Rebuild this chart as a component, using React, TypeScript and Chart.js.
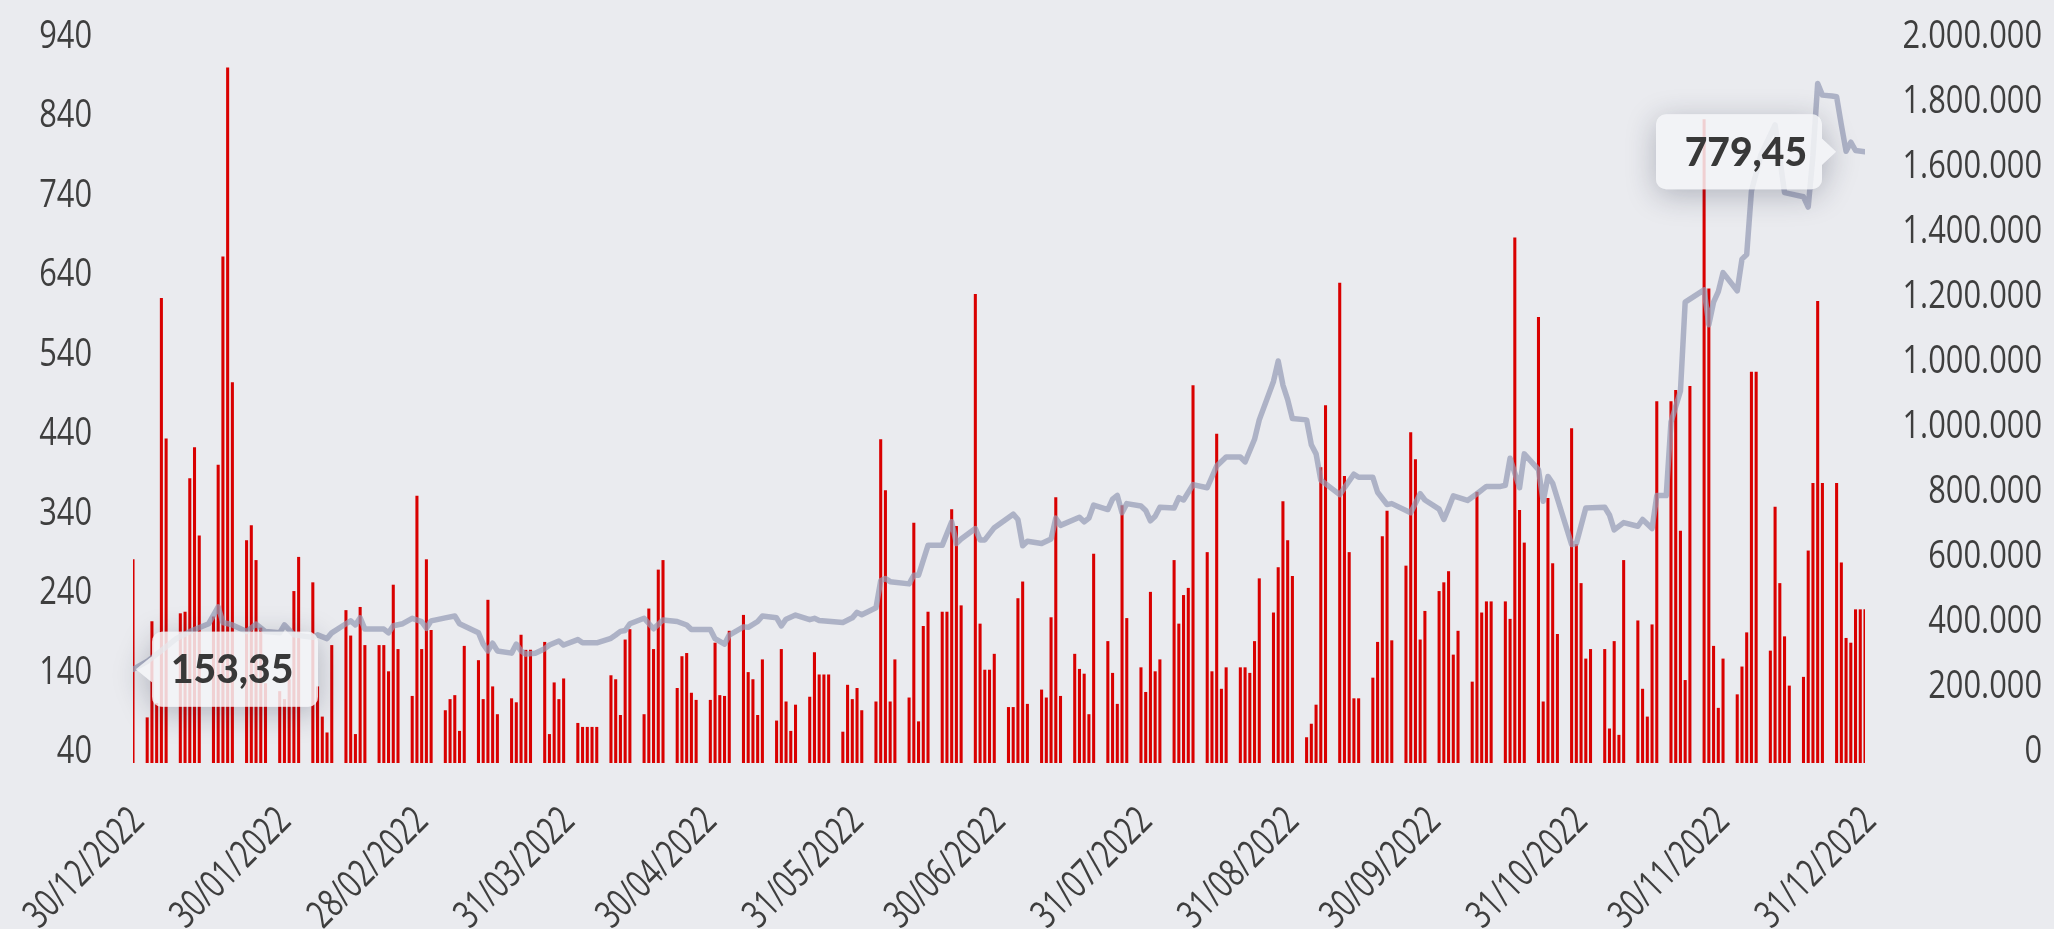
import React, { useEffect, useRef } from 'react';
import { Chart, registerables } from 'chart.js';

Chart.register(...registerables);

// ---------- DATA ----------
// Daily volume bars (one entry per day slot, null = no trading). Rows of 7 days.
const volumes: (number | null)[] = [
  296, null, null, 97, 218, 115, 625,
  448, null, null, 228, 230, 398, 437,
  326, null, null, 224, 415, 677, 915,
  519, null, null, 320, 339, 295, 210,
  140, null, null, 130, 120, 145, 256,
  299, null, null, 267, 136, 98, 78,
  188, null, null, 232, 200, 76, 236,
  188, null, null, 188, 188, 155, 264,
  183, null, null, 124, 376, 183, 296,
  207, null, null, 106, 120, 125, 80,
  187, null, null, 169, 120, 245, 136,
  101, null, null, 121, 116, 201, 182,
  182, null, null, 192, 76, 141, 120,
  146, null, null, 90, 85, 85, 85,
  85, null, null, 150, 145, 100, 195,
  208, null, null, 101, 234, 183, 283,
  295, null, null, 134, 174, 178, 128,
  119, null, null, 119, 191, 125, 124,
  206, null, null, 226, 154, 145, 100,
  170, null, null, 93, 183, 117, 80,
  113, null, null, 123, 179, 151, 151,
  151, null, null, 79, 138, 120, 134,
  106, null, null, 117, 447, 383, 117,
  170, null, null, 122, 342, 92, 212,
  230, null, null, 230, 230, 359, 338,
  238, null, null, 630, 215, 157, 157,
  177, null, null, 110, 110, 247, 268,
  114, null, null, 132, 122, 223, 374,
  124, null, null, 177, 158, 152, 101,
  303, null, null, 193, 153, 114, 364,
  222, null, null, 160, 129, 255, 155,
  170, null, null, 295, 215, 251, 260,
  515, null, null, 305, 155, 454, 133,
  160, null, null, 160, 160, 153, 193,
  272, null, null, 229, 286, 369, 320,
  275, null, null, 72, 89, 113, 412,
  490, null, null, 644, 401, 305, 121,
  121, null, null, 147, 192, 325, 357,
  194, null, null, 288, 456, 422, 195,
  231, null, null, 256, 267, 281, 176,
  206, null, null, 142, 381, 229, 243,
  243, null, null, 243, 221, 701, 358,
  317, null, null, 601, 117, 373, 291,
  202, null, null, 461, 315, 266, 171,
  183, null, null, 183, 83, 193, 75,
  295, null, null, 219, 133, 98, 214,
  495, null, null, 495, 509, 332, 144,
  514, null, null, 850, 637, 187, 109,
  171, null, null, 126, 161, 204, 532,
  532, null, null, 181, 362, 266, 199,
  137, null, null, 148, 307, 392, 621,
  392, null, null, 392, 292, 197, 191,
  233, 233, 233,
];

// Price line: day slot of each read vertex and its value
const priceDays: number[] = [
  0, 3, 6, 9, 12, 16, 18, 19, 21, 24, 26, 28, 31, 32, 34, 38, 39, 41, 42, 45,
  46, 47, 48, 49, 53, 54, 55, 57, 59, 61, 62, 63, 66, 68, 69, 71, 73, 74, 75, 76,
  77, 80, 81, 82, 83, 85, 87, 88, 90, 91, 94, 95, 98, 101, 102, 103, 104, 105, 108, 110,
  112, 115, 117, 118, 122, 123, 125, 126, 129, 130, 132, 133, 136, 137, 138, 140, 143, 144, 145, 150,
  152, 153, 154, 157, 158, 159, 160, 164, 165, 166, 168, 171, 173, 174, 175, 178, 179, 180, 182, 186,
  187, 188, 189, 192, 194, 195, 196, 200, 201, 202, 203, 206, 207, 208, 209, 210, 213, 214, 215, 216,
  217, 220, 221, 222, 224, 227, 229, 231, 234, 235, 237, 238, 241, 242, 243, 244, 245, 248, 249, 250,
  251, 255, 256, 258, 259, 262, 263, 265, 266, 270, 272, 273, 276, 277, 278, 279, 282, 284, 286, 289,
  290, 291, 293, 294, 297, 298, 299, 300, 304, 305, 307, 311, 312, 313, 315, 318, 319, 321, 322, 324,
  325, 327, 328, 332, 333, 334, 335, 336, 339, 340, 341, 342, 344, 347, 349, 353, 354, 355, 356, 357,
  359, 360, 361, 362, 363, 364, 366,
];
const prices: number[] = [
  153.35, 163, 176, 190, 199, 208.5, 228.8, 210, 207, 199, 208, 199, 197.5, 207, 195, 192, 195, 190.5, 197.5, 208.5,
  212, 207, 215.6, 202, 202, 197.5, 206, 208.5, 215, 211, 203, 212, 215.6, 217.8, 208.5, 203, 197.5, 183.8, 175.6, 184.9,
  175.6, 172.9, 183.8, 175.6, 171.7, 172.9, 178.3, 182.7, 187.6, 182.7, 189.3, 185.4, 185.4, 190.9, 194.8, 199.2, 200.3, 208.5, 215.1, 202.4,
  212.9, 211.2, 206.9, 201.4, 201.4, 190.4, 183.8, 194.8, 204.7, 204.1, 211.2, 217.8, 215.6, 205.8, 214, 219, 213.4, 215, 212.3, 210.1,
  215.6, 222.2, 219.4, 227.7, 260.5, 263.3, 259.4, 256.7, 267.1, 267.1, 303.3, 303.3, 331.8, 305.5, 311, 323.6, 309.9, 309.9, 324.7, 341,
  334.6, 302.8, 308.3, 305.5, 311, 336.2, 327.5, 337.3, 331.8, 336.2, 352.1, 346.6, 359.2, 363.6, 342.8, 353.8, 351, 345.6, 333, 338.5,
  349.4, 348.4, 361, 358.2, 376.8, 373, 399.3, 410.2, 410.2, 404.2, 431.6, 455.1, 501.6, 526.3, 497.2, 479.7, 456.7, 455.1, 425, 414,
  382.3, 364.7, 373, 389.4, 385.6, 385.6, 367.5, 352.7, 353.8, 342.8, 365.8, 358.2, 347.2, 334.6, 348.4, 363.1, 357.6, 365.8, 374.6, 374.6,
  376, 408.6, 373, 414, 394.9, 356.6, 386.7, 378.5, 304.4, 305.5, 348.4, 349.4, 340.1, 322.1, 330.8, 326.4, 334.6, 323.6, 363.6, 363.6,
  452.4, 490, 597.6, 612.4, 570.2, 597.6, 610.2, 633.2, 611.3, 649.6, 655.1, 731.8, 775.6, 812, 730, 725, 712.6, 775, 862, 848,
  847, 846, 812, 780, 791, 781, 779.45,
];

// X tick labels and the day slot where each sits
const xTickLabels: string[] = [
  '30/12/2022', '30/01/2022', '28/02/2022', '31/03/2022', '30/04/2022', '31/05/2022', '30/06/2022',
  '31/07/2022', '31/08/2022', '30/09/2022', '31/10/2022', '30/11/2022', '31/12/2022',
];
const xTickDays: number[] = [0, 31, 60, 91, 121, 152, 182, 213, 244, 274, 305, 335, 366];

// Left axis ticks
const leftTicks: number[] = [40, 140, 240, 340, 440, 540, 640, 740, 840, 940];

// Right axis tick labels (bottom to top)
const rightTickLabels: string[] = [
  '0', '200.000', '400.000', '600.000', '800.000', '1.000.000', '1.000.000',
  '1.200.000', '1.400.000', '1.600.000', '1.800.000', '2.000.000',
];
const RIGHT_MAX = 2000000;

// ---------- STYLE ----------
const W = 2054;
const H = 929;
const BG = '#eaebef';
const TEXT = '#3e3e3e';
const Y_FONT = '400 39px "Open Sans", "Noto Sans", sans-serif';
const Y_SX = 0.79; // horizontal squeeze to mimic a narrow face
const X_FONT = '400 39px "Open Sans", "Noto Sans", sans-serif';
const X_SX = 0.73;

const fmt = (v: number) => v.toFixed(2).replace('.', ',');

function drawLabel(
  ctx: CanvasRenderingContext2D, text: string, ax: number, ay: number, rot: number, sx: number,
) {
  ctx.save();
  ctx.translate(ax, ay);
  if (rot) ctx.rotate(rot);
  ctx.scale(sx, 1);
  ctx.textAlign = 'right';
  ctx.textBaseline = 'alphabetic';
  ctx.fillText(text, 0, 0);
  ctx.restore();
}

const axisLabelPlugin = {
  id: 'axisLabels',
  afterDraw(chart: any) {
    const ctx: CanvasRenderingContext2D = chart.ctx;
    const { x, y, yR } = chart.scales;
    const area = chart.chartArea;
    ctx.save();
    ctx.fillStyle = TEXT;
    ctx.font = Y_FONT;
    for (const v of leftTicks) {
      drawLabel(ctx, String(v), area.left - 41, y.getPixelForValue(v), 0, Y_SX);
    }
    const n = rightTickLabels.length - 1;
    rightTickLabels.forEach((lab, k) => {
      drawLabel(ctx, lab, chart.width - 12, yR.getPixelForValue((RIGHT_MAX * k) / n), 0, Y_SX);
    });
    ctx.font = X_FONT;
    xTickDays.forEach((d, i) => {
      drawLabel(ctx, xTickLabels[i], x.getPixelForValue(d) + 13, area.bottom + 60, -Math.PI / 4, X_SX);
    });
    ctx.restore();
  },
};

function calloutPath(
  ctx: CanvasRenderingContext2D, bx: number, by: number, bw: number, bh: number,
  r: number, tipX: number, tipY: number, side: 'left' | 'right', ch: number,
) {
  ctx.moveTo(bx + r, by);
  ctx.lineTo(bx + bw - r, by);
  ctx.arcTo(bx + bw, by, bx + bw, by + r, r);
  if (side === 'right') {
    ctx.lineTo(bx + bw, tipY - ch);
    ctx.lineTo(tipX, tipY);
    ctx.lineTo(bx + bw, tipY + ch);
  }
  ctx.lineTo(bx + bw, by + bh - r);
  ctx.arcTo(bx + bw, by + bh, bx + bw - r, by + bh, r);
  ctx.lineTo(bx + r, by + bh);
  ctx.arcTo(bx, by + bh, bx, by + bh - r, r);
  if (side === 'left') {
    ctx.lineTo(bx, tipY + ch);
    ctx.lineTo(tipX, tipY);
    ctx.lineTo(bx, tipY - ch);
  }
  ctx.lineTo(bx, by + r);
  ctx.arcTo(bx, by, bx + r, by, r);
  ctx.closePath();
}

const calloutPlugin = {
  id: 'callouts',
  afterDatasetsDraw(chart: any) {
    const ctx: CanvasRenderingContext2D = chart.ctx;
    const xs = chart.scales.x;
    const ys = chart.scales.yP;
    const n = prices.length;
    const items = [
      { day: priceDays[0], value: prices[0], caretSide: 'left' as const },
      { day: priceDays[n - 1], value: prices[n - 1], caretSide: 'right' as const },
    ];
    const bw = 166, bh = 75, r = 10, ch = 13;
    for (const it of items) {
      const px = xs.getPixelForValue(it.day);
      const py = ys.getPixelForValue(it.value);
      let tipX: number, bx: number;
      if (it.caretSide === 'left') {
        tipX = px + 3;
        bx = tipX + 16;
      } else {
        tipX = px - 29;
        bx = tipX - 14 - bw;
      }
      const by = py - bh / 2;
      // shadow outside the box only
      ctx.save();
      ctx.beginPath();
      ctx.rect(0, 0, chart.width, chart.height);
      calloutPath(ctx, bx, by, bw, bh, r, tipX, py, it.caretSide, ch);
      ctx.clip('evenodd');
      ctx.beginPath();
      calloutPath(ctx, bx, by, bw, bh, r, tipX, py, it.caretSide, ch);
      ctx.shadowColor = 'rgba(30,35,60,0.28)';
      ctx.shadowBlur = 30;
      ctx.shadowOffsetY = 6;
      ctx.fillStyle = '#e4e5ea';
      ctx.fill();
      ctx.restore();
      // translucent body
      ctx.save();
      ctx.beginPath();
      calloutPath(ctx, bx, by, bw, bh, r, tipX, py, it.caretSide, ch);
      ctx.fillStyle = 'rgba(243,244,247,0.85)';
      ctx.fill();
      ctx.font = '900 39px Lato, Roboto, sans-serif';
      ctx.fillStyle = '#383838';
      ctx.textBaseline = 'alphabetic';
      const label = fmt(it.value);
      const baseY = py + 14;
      if (it.caretSide === 'left') {
        ctx.textAlign = 'left';
        ctx.fillText(label, bx + 19, baseY);
      } else {
        ctx.textAlign = 'right';
        ctx.fillText(label, bx + bw - 15, baseY);
      }
      ctx.restore();
    }
  },
};

export default function App() {
  const canvasRef = useRef<HTMLCanvasElement | null>(null);

  useEffect(() => {
    document.body.style.margin = '0';
    document.body.style.background = BG;
    const canvas = canvasRef.current!;
    const barData = volumes.flatMap((v, i) => (v == null ? [] : [{ x: i, y: v }]));
    const lineData = priceDays.map((d, i) => ({ x: d, y: prices[i] }));

    const chart = new Chart(canvas, {
      type: 'bar',
      data: {
        datasets: [
          {
            type: 'line',
            data: lineData,
            xAxisID: 'x',
            yAxisID: 'yP',
            borderColor: 'rgba(150,155,182,0.72)',
            borderWidth: 5.5,
            pointRadius: 0,
            tension: 0,
            fill: false,
            borderJoinStyle: 'round',
            borderCapStyle: 'round',
            order: 0,
          } as any,
          {
            type: 'bar',
            data: barData,
            xAxisID: 'x',
            yAxisID: 'y',
            backgroundColor: '#d90000',
            borderWidth: 0,
            barThickness: 2.4,
            order: 1,
          } as any,
        ],
      },
      options: {
        responsive: false,
        animation: false,
        events: [],
        layout: { padding: { top: 48, right: 12, bottom: 0, left: 0 } },
        plugins: { legend: { display: false }, tooltip: { enabled: false } },
        scales: {
          x: {
            type: 'linear',
            min: 0,
            max: volumes.length - 1,
            offset: false,
            grid: { display: false, drawTicks: false },
            border: { display: false },
            ticks: { display: false },
            afterFit: (s: any) => {
              s.height = 166;
              s.paddingLeft = 0;
              s.paddingRight = 0;
            },
          },
          y: {
            type: 'linear',
            position: 'left',
            min: 40,
            max: 940,
            grid: { display: false, drawTicks: false },
            border: { display: false },
            ticks: { display: false, stepSize: 100 },
            afterFit: (s: any) => {
              s.width = 133;
              s.paddingTop = 0;
              s.paddingBottom = 0;
            },
          },
          yR: {
            type: 'linear',
            position: 'right',
            min: 0,
            max: RIGHT_MAX,
            grid: { display: false, drawTicks: false },
            border: { display: false },
            ticks: { display: false },
            afterFit: (s: any) => {
              s.width = 177;
              s.paddingTop = 0;
              s.paddingBottom = 0;
            },
          },
          yP: {
            type: 'linear',
            display: false,
            min: 40,
            max: 905,
          },
        },
      } as any,
      plugins: [calloutPlugin, axisLabelPlugin],
    });
    return () => chart.destroy();
  }, []);

  return (
    <div style={{ position: 'fixed', left: 0, top: 0, width: W, height: H, background: BG }}>
      <canvas ref={canvasRef} width={W} height={H} style={{ width: W, height: H, display: 'block' }} />
    </div>
  );
}
